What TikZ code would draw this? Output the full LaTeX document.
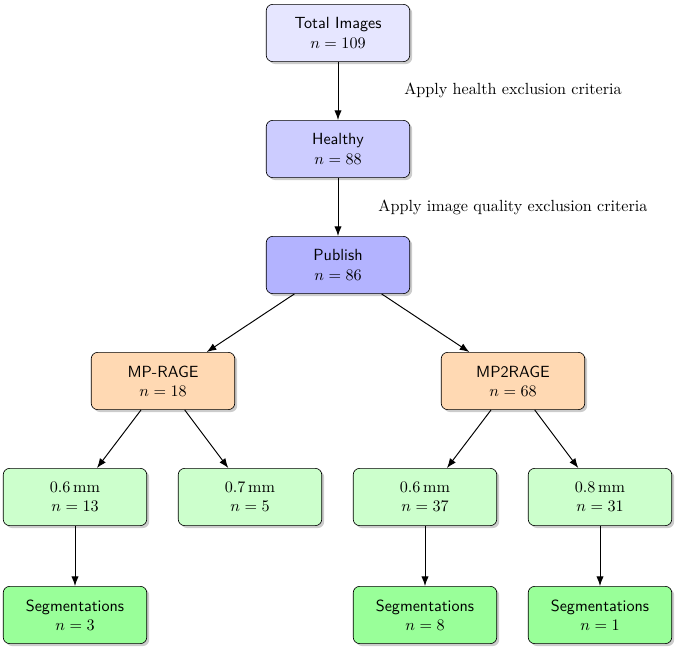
\documentclass[tikz,border=0pt]{standalone}
\usetikzlibrary{arrows.meta,shadows}
\definecolor{c1}{HTML}{E6E6FF}
\definecolor{c2}{HTML}{CCCCFF}
\definecolor{c3}{HTML}{B3B3FF}
\definecolor{c4}{HTML}{FFD9B3}
\definecolor{c5}{HTML}{CCFFCC}
\definecolor{c6}{HTML}{99FF99}
\begin{document}
\begin{tikzpicture}[x=0.62pt,y=-0.62pt,
  box/.style={draw,rounded corners=4pt,minimum width=89pt,minimum height=35.5pt,align=center,drop shadow={opacity=0.4,shadow xshift=1.5pt,shadow yshift=-1.5pt},inner sep=1pt},
  arr/.style={-{Latex[length=6pt,width=4.5pt]},semithick}]
\useasboundingbox (0,0) rectangle (685,656);
\node[box,fill=c1] (ti) at (338,33) {\sffamily Total Images\\$n=109$};
\node[box,fill=c2] (he) at (338,149) {\sffamily Healthy\\$n=88$};
\node[box,fill=c3] (pu) at (338,265) {\sffamily Publish\\$n=86$};
\node[box,fill=c4] (m1) at (163,381) {\sffamily MP-RAGE\\$n=18$};
\node[box,fill=c4] (m2) at (513,381) {\sffamily MP2RAGE\\$n=68$};
\node[box,fill=c5] (a1) at (75,497) {$0.6\,\mathrm{mm}$\\$n=13$};
\node[box,fill=c5] (a2) at (250,497) {$0.7\,\mathrm{mm}$\\$n=5$};
\node[box,fill=c5] (b1) at (425,497) {$0.6\,\mathrm{mm}$\\$n=37$};
\node[box,fill=c5] (b2) at (600,497) {$0.8\,\mathrm{mm}$\\$n=31$};
\node[box,fill=c6] (s1) at (75,615) {\sffamily Segmentations\\$n=3$};
\node[box,fill=c6] (s2) at (425,615) {\sffamily Segmentations\\$n=8$};
\node[box,fill=c6] (s3) at (600,615) {\sffamily Segmentations\\$n=1$};
\node (l1) at (513,90) {Apply health exclusion criteria};
\node (l2) at (513,207) {Apply image quality exclusion criteria};
\draw[arr] (ti) -- (he);
\draw[arr] (he) -- (pu);
\draw[arr] (pu) -- (m1);
\draw[arr] (pu) -- (m2);
\draw[arr] (m1) -- (a1);
\draw[arr] (m1) -- (a2);
\draw[arr] (m2) -- (b1);
\draw[arr] (m2) -- (b2);
\draw[arr] (a1) -- (s1);
\draw[arr] (b1) -- (s2);
\draw[arr] (b2) -- (s3);
\end{tikzpicture}
\end{document}
